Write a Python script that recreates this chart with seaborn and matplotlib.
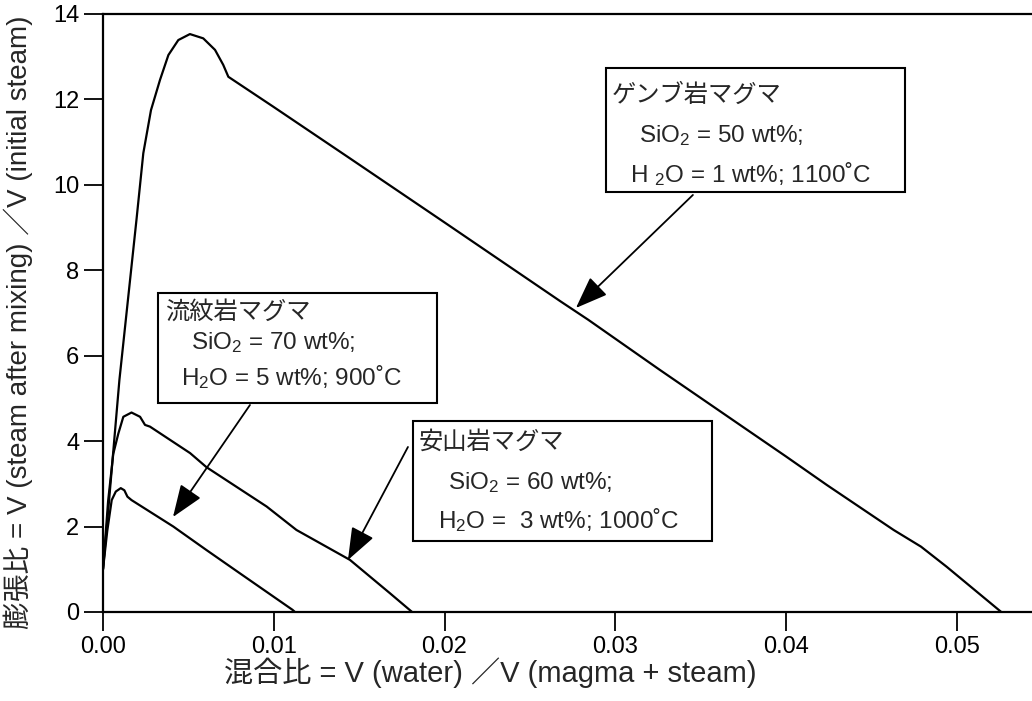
import numpy as np
import pandas as pd
import matplotlib
matplotlib.use("Agg")
import matplotlib.pyplot as plt
from matplotlib.patches import Rectangle
import seaborn as sns

# ---------------- data ----------------
basalt_x = [0.0, 0.00031, 0.00096, 0.00197, 0.00236, 0.00281, 0.00334, 0.00383,
            0.00441, 0.00509, 0.00587, 0.00656, 0.00704, 0.00734, 0.00997, 0.01446,
            0.0200, 0.0268, 0.02842, 0.0326, 0.0373, 0.0400, 0.0424, 0.0463,
            0.0479, 0.0494, 0.0526]
basalt_y = [1.0, 2.4, 5.43, 9.22, 10.74, 11.75, 12.46, 13.04,
            13.39, 13.53, 13.43, 13.16, 12.81, 12.53, 11.83, 10.62,
            9.12, 7.27, 6.84, 5.67, 4.38, 3.64, 2.97, 1.92,
            1.53, 1.06, 0.0]

andesite_x = [0.0, 0.0003, 0.0006, 0.0009, 0.00119, 0.00167, 0.00217, 0.00246,
              0.00275, 0.0051, 0.00606, 0.00958, 0.01133, 0.01446, 0.0168, 0.0181]
andesite_y = [1.0, 2.6, 3.7, 4.18, 4.57, 4.67, 4.57, 4.38,
              4.34, 3.72, 3.39, 2.47, 1.92, 1.22, 0.44, 0.0]

rhyolite_x = [0.0, 0.00025, 0.00051, 0.00075, 0.00104, 0.00125, 0.00143, 0.00167,
              0.00412, 0.0044, 0.00606, 0.0080, 0.0111, 0.01124]
rhyolite_y = [1.0, 1.9, 2.62, 2.82, 2.90, 2.85, 2.70, 2.62,
              2.0, 1.92, 1.45, 0.91, 0.05, 0.0]

series_names = ["ゲンブ岩マグマ", "安山岩マグマ", "流紋岩マグマ"]
box_lines = {
    "ゲンブ岩マグマ": ["SiO$_\\mathrm{2}$ = 50 wt%;", "H $_\\mathrm{2}$O = 1 wt%; 1100˚C"],
    "安山岩マグマ": ["SiO$_\\mathrm{2}$ = 60 wt%;", "H$_\\mathrm{2}$O =  3 wt%; 1000˚C"],
    "流紋岩マグマ": ["SiO$_\\mathrm{2}$ = 70 wt%;", "H$_\\mathrm{2}$O = 5 wt%; 900˚C"],
}
x_ticks = [0.00, 0.01, 0.02, 0.03, 0.04, 0.05]
x_ticklabels = ["0.00", "0.01", "0.02", "0.03", "0.04", "0.05"]
y_ticks = [0, 2, 4, 6, 8, 10, 12, 14]
x_label = "混合比 = V (water) ／V (magma + steam)"
y_label = "膨張比 = V (steam after mixing) ／V (initial steam)"

df = pd.concat([
    pd.DataFrame({"x": basalt_x, "y": basalt_y, "magma": series_names[0]}),
    pd.DataFrame({"x": andesite_x, "y": andesite_y, "magma": series_names[1]}),
    pd.DataFrame({"x": rhyolite_x, "y": rhyolite_y, "magma": series_names[2]}),
], ignore_index=True)

# ---------------- style ----------------
sns.set_style("ticks")
plt.rcParams["font.family"] = ["Liberation Sans", "Noto Sans CJK JP", "DejaVu Sans"]
plt.rcParams["mathtext.fontset"] = "custom"
plt.rcParams["mathtext.rm"] = "Liberation Sans"
plt.rcParams["mathtext.it"] = "Liberation Sans:italic"
plt.rcParams["mathtext.bf"] = "Liberation Sans:bold"

fig = plt.figure(figsize=(10.32, 7.01), dpi=100)
ax = fig.add_axes([103 / 1032, (701 - 612) / 701, 1 - 103 / 1032, (612 - 14) / 701])

sns.lineplot(data=df, x="x", y="y", hue="magma", units="magma", estimator=None,
             sort=False, palette=["black"] * 3, linewidth=1.6, legend=False, ax=ax)

ax.set_xlim(0, 0.0544)
ax.set_ylim(0, 14)
ax.set_xticks(x_ticks)
ax.set_xticklabels(x_ticklabels)
ax.set_yticks(y_ticks)
ax.tick_params(axis="both", direction="out", length=14, width=1.3, labelsize=17,
               pad=3, colors="black")
for s in ["left", "bottom", "top"]:
    ax.spines[s].set_linewidth(1.6)
    ax.spines[s].set_color("black")
ax.spines["right"].set_visible(False)

ax.set_xlabel(x_label, fontsize=21, labelpad=2)
ax.xaxis.set_label_coords((490 - 103) / 929, -0.075)
ax.set_ylabel(y_label, fontsize=20)
ax.yaxis.set_label_coords(-(103 - 33) / 929, (612 - 322) / 598)

# ---------------- annotation boxes ----------------
def px2data(px, py):
    return (px - 103) / 17080.0, (612 - py) / 42.71

boxes = {
    "ゲンブ岩マグマ": dict(rect=(606, 68, 905, 192), title=(612, 95), l1=(639, 136), l2=(630, 174),
                       tail=(693, 195), tip=(576, 308)),
    "流紋岩マグマ": dict(rect=(158, 293, 437, 403), title=(165, 312), l1=(191, 343), l2=(181, 377),
                      tail=(250, 405), tip=(173, 517)),
    "安山岩マグマ": dict(rect=(413, 421, 712, 541), title=(419, 442), l1=(448, 483), l2=(438, 520),
                      tail=(408, 447), tip=(348, 560)),
}

for name in series_names:
    b = boxes[name]
    x0, y1 = px2data(b["rect"][0], b["rect"][3])
    x1, y0 = px2data(b["rect"][2], b["rect"][1])
    ax.add_patch(Rectangle((x0, y1), x1 - x0, y0 - y1, fill=True, facecolor="white",
                           edgecolor="black", linewidth=1.5, zorder=5))
    tx, ty = px2data(*b["title"])
    ax.text(tx, ty, name, fontsize=17.5, va="center", ha="left", zorder=6)
    lx, ly = px2data(*b["l1"])
    ax.text(lx, ly, box_lines[name][0], fontsize=17.5, va="center", ha="left", zorder=6)
    lx, ly = px2data(*b["l2"])
    ax.text(lx, ly, box_lines[name][1], fontsize=17.5, va="center", ha="left", zorder=6)
    ax.annotate("", xy=px2data(*b["tip"]), xytext=px2data(*b["tail"]),
                arrowprops=dict(arrowstyle="-|>,head_length=1.0,head_width=0.38",
                                mutation_scale=20, lw=1.3, color="black",
                                shrinkA=0, shrinkB=0), zorder=6)

fig.savefig("out.png", dpi=100, facecolor="white")
